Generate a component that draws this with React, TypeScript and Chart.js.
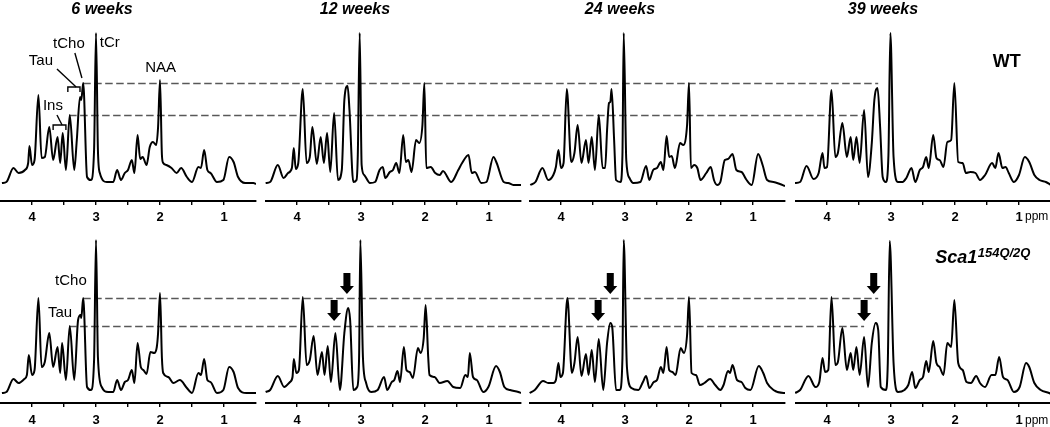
import React, { useEffect, useRef } from 'react';
import { Chart, registerables } from 'chart.js';

Chart.register(...registerables);

const FONT = '"Liberation Sans", Arial, Helvetica, sans-serif';

// ---------- data ----------
const TITLES = ['6 weeks', '12 weeks', '24 weeks', '39 weeks'];
const TICK_VALUES = [4, 3.5, 3, 2.5, 2, 1.5, 1];
const PPM_MIN = 0.5;
const PPM_MAX = 4.5;
const TCHO_PPM = 3.2;
const TAU_PPM = 3.42;

// WT, 6 weeks
const WT6_PPM = [4.47, 4.40, 4.29, 4.21, 4.11, 4.06, 4.04, 4.00, 3.96, 3.90, 3.85, 3.80, 3.73, 3.67, 3.60, 3.56, 3.52, 3.47, 3.41, 3.34, 3.30, 3.25, 3.23, 3.20, 3.14, 3.08, 3.03, 3.00, 2.97, 2.94, 2.83, 2.73, 2.67, 2.61, 2.55, 2.50, 2.44, 2.40, 2.35, 2.31, 2.27, 2.21, 2.16, 2.11, 2.06, 2.03, 2.00, 1.97, 1.95, 1.90, 1.82, 1.74, 1.67, 1.58, 1.50, 1.40, 1.36, 1.31, 1.26, 1.21, 1.11, 1.01, 0.92, 0.85, 0.78, 0.67, 0.54, 0.50];
const WT6_INT = [17, 18, 32, 27, 30, 37, 54, 35, 40, 105, 42, 43, 73, 40, 63, 37, 67, 30, 85, 30, 60, 103, 100, 117, 23, 20, 50, 167, 50, 27, 18, 18, 30, 20, 27, 30, 40, 27, 65, 41, 43, 35, 53, 58, 55, 73, 120, 45, 37, 35, 32, 27, 32, 23, 18, 33, 32, 50, 30, 27, 18, 20, 43, 38, 23, 17, 17, 16];

// WT, 12 weeks
const WT12_PPM = [4.49, 4.42, 4.30, 4.21, 4.14, 4.08, 4.05, 4.02, 3.98, 3.91, 3.85, 3.80, 3.76, 3.69, 3.63, 3.58, 3.53, 3.48, 3.42, 3.36, 3.30, 3.26, 3.21, 3.18, 3.12, 3.07, 3.05, 3.02, 2.99, 2.95, 2.86, 2.78, 2.71, 2.66, 2.62, 2.55, 2.50, 2.45, 2.40, 2.34, 2.30, 2.26, 2.21, 2.14, 2.09, 2.04, 2.01, 1.98, 1.91, 1.84, 1.77, 1.72, 1.59, 1.48, 1.42, 1.32, 1.27, 1.22, 1.12, 1.04, 0.93, 0.88, 0.77, 0.70, 0.62, 0.50];
const WT12_INT = [17, 18, 35, 22, 27, 32, 52, 31, 37, 111, 37, 43, 73, 36, 63, 37, 67, 28, 87, 20, 30, 100, 114, 90, 18, 20, 45, 167, 35, 25, 17, 18, 30, 33, 22, 28, 30, 37, 27, 65, 38, 40, 28, 60, 57, 75, 117, 32, 33, 27, 25, 29, 18, 30, 37, 45, 27, 28, 17, 18, 43, 37, 18, 17, 15, 15];

// WT, 24 weeks
const WT24_PPM = [4.48, 4.40, 4.29, 4.20, 4.12, 4.08, 4.04, 4.00, 3.96, 3.91, 3.84, 3.79, 3.74, 3.68, 3.61, 3.57, 3.52, 3.47, 3.41, 3.35, 3.31, 3.28, 3.25, 3.23, 3.21, 3.17, 3.14, 3.07, 3.04, 3.02, 2.98, 2.93, 2.87, 2.76, 2.67, 2.62, 2.56, 2.50, 2.44, 2.40, 2.35, 2.31, 2.27, 2.22, 2.14, 2.09, 2.03, 2.00, 1.97, 1.92, 1.87, 1.82, 1.73, 1.66, 1.61, 1.56, 1.51, 1.44, 1.39, 1.32, 1.26, 1.18, 1.10, 1.02, 0.92, 0.85, 0.78, 0.68, 0.58, 0.50];
const WT24_INT = [15, 18, 32, 20, 25, 33, 50, 32, 37, 111, 38, 47, 75, 37, 60, 37, 63, 30, 85, 32, 32, 70, 97, 98, 111, 60, 20, 18, 45, 167, 40, 22, 17, 18, 34, 20, 30, 32, 38, 30, 64, 43, 44, 32, 57, 55, 75, 117, 32, 35, 32, 20, 27, 33, 20, 15, 18, 40, 41, 46, 30, 28, 20, 15, 46, 35, 20, 18, 16, 14];

// WT, 39 weeks
const WT39_PPM = [4.50, 4.42, 4.32, 4.21, 4.13, 4.07, 4.04, 4.00, 3.93, 3.87, 3.83, 3.76, 3.69, 3.63, 3.59, 3.54, 3.49, 3.42, 3.36, 3.30, 3.26, 3.21, 3.17, 3.13, 3.08, 3.04, 3.01, 2.96, 2.89, 2.82, 2.76, 2.68, 2.62, 2.55, 2.50, 2.45, 2.41, 2.34, 2.29, 2.24, 2.18, 2.12, 2.06, 2.01, 1.95, 1.88, 1.83, 1.76, 1.68, 1.61, 1.53, 1.42, 1.37, 1.32, 1.26, 1.21, 1.16, 1.08, 1.00, 0.91, 0.84, 0.76, 0.68, 0.58, 0.50];
const WT39_INT = [17, 18, 34, 21, 27, 47, 32, 33, 110, 43, 47, 77, 43, 63, 40, 63, 37, 90, 23, 57, 100, 112, 73, 23, 18, 45, 167, 43, 18, 18, 22, 32, 18, 30, 33, 43, 32, 65, 42, 40, 33, 58, 60, 117, 38, 37, 27, 28, 27, 20, 25, 37, 32, 47, 32, 33, 27, 18, 25, 43, 38, 25, 20, 18, 15];

// Sca1 154Q/2Q, 6 weeks
const SCA6_PPM = [4.47, 4.40, 4.29, 4.21, 4.12, 4.08, 4.05, 4.00, 3.96, 3.90, 3.85, 3.80, 3.73, 3.67, 3.60, 3.56, 3.53, 3.47, 3.41, 3.34, 3.28, 3.24, 3.23, 3.20, 3.14, 3.08, 3.03, 3.00, 2.97, 2.91, 2.81, 2.73, 2.67, 2.61, 2.55, 2.50, 2.44, 2.40, 2.35, 2.30, 2.26, 2.21, 2.15, 2.09, 2.05, 2.03, 2.00, 1.97, 1.95, 1.87, 1.79, 1.69, 1.58, 1.50, 1.40, 1.36, 1.31, 1.26, 1.21, 1.11, 1.01, 0.92, 0.85, 0.78, 0.65, 0.50];
const SCA6_INT = [10, 11, 24, 20, 24, 28, 48, 28, 33, 105, 36, 41, 70, 36, 56, 30, 60, 23, 77, 23, 83, 88, 85, 105, 16, 13, 43, 163, 46, 16, 11, 11, 23, 13, 21, 23, 33, 20, 60, 36, 33, 29, 51, 50, 56, 70, 110, 45, 30, 26, 20, 23, 15, 10, 30, 28, 44, 23, 21, 10, 13, 36, 31, 15, 10, 10];

// Sca1 154Q/2Q, 12 weeks
const SCA12_PPM = [4.49, 4.42, 4.30, 4.20, 4.11, 4.07, 4.05, 4.01, 3.97, 3.91, 3.85, 3.80, 3.74, 3.68, 3.61, 3.57, 3.52, 3.47, 3.40, 3.33, 3.26, 3.20, 3.17, 3.12, 3.06, 3.03, 3.01, 2.97, 2.92, 2.84, 2.74, 2.64, 2.59, 2.52, 2.48, 2.43, 2.39, 2.33, 2.29, 2.24, 2.19, 2.11, 2.07, 2.02, 1.99, 1.95, 1.93, 1.85, 1.77, 1.65, 1.56, 1.45, 1.37, 1.33, 1.30, 1.25, 1.19, 1.09, 1.01, 0.89, 0.83, 0.76, 0.67, 0.54, 0.50];
const SCA12_INT = [11, 13, 27, 16, 21, 26, 44, 30, 33, 106, 38, 43, 67, 28, 51, 28, 57, 21, 70, 13, 70, 95, 83, 13, 16, 45, 163, 46, 20, 11, 13, 26, 13, 21, 23, 32, 21, 56, 33, 31, 25, 55, 50, 65, 98, 46, 28, 26, 20, 22, 16, 15, 28, 26, 50, 26, 23, 11, 16, 37, 31, 16, 13, 11, 10];

// Sca1 154Q/2Q, 24 weeks
const SCA24_PPM = [4.49, 4.41, 4.28, 4.20, 4.12, 4.08, 4.04, 4.01, 3.97, 3.90, 3.83, 3.79, 3.74, 3.68, 3.61, 3.57, 3.52, 3.47, 3.41, 3.34, 3.28, 3.23, 3.20, 3.14, 3.08, 3.04, 3.02, 2.97, 2.90, 2.79, 2.72, 2.67, 2.62, 2.55, 2.50, 2.44, 2.40, 2.35, 2.31, 2.26, 2.21, 2.13, 2.08, 2.03, 2.00, 1.96, 1.89, 1.83, 1.76, 1.67, 1.59, 1.51, 1.46, 1.39, 1.36, 1.32, 1.25, 1.18, 1.12, 1.04, 0.91, 0.84, 0.78, 0.68, 0.52, 0.50];
const SCA24_INT = [10, 13, 22, 20, 20, 23, 40, 26, 30, 105, 30, 40, 66, 27, 49, 28, 53, 21, 64, 13, 60, 80, 76, 13, 13, 45, 163, 36, 15, 13, 21, 27, 15, 21, 23, 36, 30, 56, 33, 31, 28, 55, 50, 68, 106, 30, 28, 18, 20, 24, 18, 13, 18, 32, 30, 38, 23, 21, 15, 13, 37, 30, 20, 13, 10, 10];

// Sca1 154Q/2Q, 39 weeks
const SCA39_PPM = [4.50, 4.42, 4.29, 4.18, 4.12, 4.07, 4.03, 3.98, 3.93, 3.87, 3.83, 3.76, 3.69, 3.63, 3.59, 3.54, 3.49, 3.42, 3.36, 3.30, 3.24, 3.20, 3.16, 3.08, 3.05, 3.02, 2.96, 2.89, 2.79, 2.73, 2.67, 2.62, 2.55, 2.50, 2.45, 2.41, 2.34, 2.29, 2.24, 2.18, 2.12, 2.06, 2.01, 1.95, 1.88, 1.82, 1.75, 1.67, 1.61, 1.53, 1.43, 1.37, 1.31, 1.25, 1.18, 1.08, 0.99, 0.89, 0.84, 0.76, 0.66, 0.53, 0.50];
const SCA39_INT = [10, 13, 27, 16, 21, 45, 31, 33, 106, 38, 41, 75, 33, 50, 33, 56, 28, 66, 16, 60, 80, 73, 16, 13, 40, 162, 40, 11, 13, 18, 31, 15, 23, 26, 42, 31, 62, 40, 36, 28, 60, 56, 103, 40, 33, 21, 20, 27, 20, 16, 28, 28, 46, 26, 23, 11, 16, 40, 36, 20, 13, 10, 9];

const SPECTRA = [
  [
    { ppm: WT6_PPM, val: WT6_INT },
    { ppm: WT12_PPM, val: WT12_INT },
    { ppm: WT24_PPM, val: WT24_INT },
    { ppm: WT39_PPM, val: WT39_INT },
  ],
  [
    { ppm: SCA6_PPM, val: SCA6_INT },
    { ppm: SCA12_PPM, val: SCA12_INT },
    { ppm: SCA24_PPM, val: SCA24_INT },
    { ppm: SCA39_PPM, val: SCA39_INT },
  ],
];

// ---------- layout ----------
const PANEL_LEFTS = [0, 265, 529, 795];
const PLOT_W = 256;
const CANVAS_W = [265, 264, 266, 256];
const ROWS = [
  { top: 0, height: 227, padTop: 20, axisH: 26, labelPad: 4.5, yMin: -1, yMax: 180 },
  { top: 227, height: 200, padTop: 0, axisH: 24, labelPad: 6, yMin: 0, yMax: 176 },
];
const TICK_FONT_SIZE = 13;
const TICK_LEN = 4;
const TITLE_X = [102, 90, 91, 88];

const WT_LABELS = [
  { text: 'tCr', ppm: 2.94, v: 153 },
  { text: 'tCho', ppm: 3.67, v: 152 },
  { text: 'Tau', ppm: 4.05, v: 135 },
  { text: 'NAA', ppm: 2.23, v: 128 },
  { text: 'Ins', ppm: 3.83, v: 90 },
];
const WT_LEADERS = [
  [[3.33, 147], [3.22, 122]],
  [[3.61, 131], [3.31, 113]],
  [[3.44, 108], [3.44, 113], [3.25, 113], [3.25, 108]],
  [[3.61, 85], [3.53, 75]],
  [[3.67, 70], [3.67, 75], [3.47, 75], [3.47, 70]],
];
const SCA_LABELS = [
  { text: 'tCho', ppm: 3.64, v: 118 },
  { text: 'Tau', ppm: 3.75, v: 86 },
];
const ARROW_UPPER_PPM = [0, 3.22, 3.23, 3.27];
const ARROW_LOWER_PPM = [0, 3.42, 3.42, 3.42];

function peakIn(s: { ppm: number[]; val: number[] }, lo: number, hi: number) {
  let m = -Infinity;
  s.ppm.forEach((p, i) => {
    if (p >= lo && p <= hi && s.val[i] > m) m = s.val[i];
  });
  return m;
}

function drawArrow(ctx: CanvasRenderingContext2D, x: number, tipY: number) {
  const shaftW = 7, headW = 14, headH = 8, total = 21;
  ctx.beginPath();
  ctx.moveTo(x - shaftW / 2, tipY - total);
  ctx.lineTo(x + shaftW / 2, tipY - total);
  ctx.lineTo(x + shaftW / 2, tipY - headH);
  ctx.lineTo(x + headW / 2, tipY - headH);
  ctx.lineTo(x, tipY);
  ctx.lineTo(x - headW / 2, tipY - headH);
  ctx.lineTo(x - shaftW / 2, tipY - headH);
  ctx.closePath();
  ctx.fill();
}

function makeOverlay(row: number, col: number, refs: { tcho: number; tau: number }, canvasW: number) {
  return {
    id: 'overlay' + row + col,
    beforeDatasetsDraw(chart: any) {
      const ctx: CanvasRenderingContext2D = chart.ctx;
      const xs = chart.scales.x;
      const ys = chart.scales.y;
      const left = PANEL_LEFTS[col];
      ctx.save();
      ctx.strokeStyle = '#585858';
      ctx.lineWidth = 1.3;
      ctx.setLineDash([7.5, 3.5]);
      const lines: [number, number][] = [[TCHO_PPM, refs.tcho], [TAU_PPM, refs.tau]];
      for (const [ppm, val] of lines) {
        const x0 = PANEL_LEFTS[0] + xs.getPixelForValue(ppm);
        const x1 = PANEL_LEFTS[3] + xs.getPixelForValue(ppm);
        const s = Math.max(0, x0 - left);
        const e = Math.min(canvasW, x1 - left);
        if (e <= s) continue;
        const y = Math.round(ys.getPixelForValue(val)) + 0.5;
        ctx.lineDashOffset = left + s - x0;
        ctx.beginPath();
        ctx.moveTo(s, y);
        ctx.lineTo(e, y);
        ctx.stroke();
      }
      ctx.restore();
    },
    afterDatasetsDraw(chart: any) {
      const ctx: CanvasRenderingContext2D = chart.ctx;
      const xs = chart.scales.x;
      const ys = chart.scales.y;
      const area = chart.chartArea;
      const X = (p: number) => xs.getPixelForValue(p);
      const Y = (v: number) => ys.getPixelForValue(v);
      ctx.save();
      ctx.fillStyle = '#000';
      ctx.strokeStyle = '#000';
      ctx.textBaseline = 'alphabetic';
      ctx.textAlign = 'left';
      if (row === 0) {
        ctx.font = `italic bold 16px ${FONT}`;
        ctx.textAlign = 'center';
        ctx.fillText(TITLES[col], area.left + TITLE_X[col], 13.5);
        ctx.textAlign = 'left';
      }
      if (col === 0) {
        const labels = row === 0 ? WT_LABELS : SCA_LABELS;
        ctx.font = `15px ${FONT}`;
        labels.forEach((l) => ctx.fillText(l.text, X(l.ppm), Y(l.v)));
        if (row === 0) {
          ctx.lineWidth = 1.4;
          WT_LEADERS.forEach((pts) => {
            ctx.beginPath();
            pts.forEach(([p, v], i) => (i === 0 ? ctx.moveTo(X(p), Y(v)) : ctx.lineTo(X(p), Y(v))));
            ctx.stroke();
          });
        }
      }
      if (row === 1 && col > 0) {
        drawArrow(ctx, X(ARROW_UPPER_PPM[col]), Y(refs.tcho) - 4);
        drawArrow(ctx, X(ARROW_LOWER_PPM[col]), Y(refs.tau) - 5);
      }
      if (col === 3) {
        if (row === 0) {
          ctx.font = `bold 18px ${FONT}`;
          ctx.fillText('WT', X(1.41), Y(133));
        } else {
          ctx.font = `italic bold 18px ${FONT}`;
          const x = X(2.31);
          const y = Y(140);
          ctx.fillText('Sca1', x, y);
          const w = ctx.measureText('Sca1').width;
          ctx.font = `italic bold 13px ${FONT}`;
          ctx.fillText('154Q/2Q', x + w + 0.5, y - 6.5);
        }
        const g = ROWS[row];
        ctx.font = `12px ${FONT}`;
        ctx.textBaseline = 'alphabetic';
        ctx.fillText('ppm', X(1) + 6, area.bottom + TICK_LEN + g.labelPad + 6 + 4.5);
      }
      ctx.restore();
    },
  };
}

function Panel({ row, col }: { row: number; col: number }) {
  const ref = useRef<HTMLCanvasElement>(null);
  const g = ROWS[row];
  const w = CANVAS_W[col];
  useEffect(() => {
    const canvas = ref.current;
    if (!canvas) return;
    const s = SPECTRA[row][col];
    const r0 = SPECTRA[row][0];
    const refs = { tcho: peakIn(r0, 3.15, 3.25), tau: peakIn(r0, 3.37, 3.47) };
    const chart = new Chart(canvas, {
      type: 'line',
      data: {
        datasets: [
          {
            data: s.ppm.map((p, i) => ({ x: p, y: s.val[i] })),
            borderColor: '#000',
            borderWidth: 2,
            pointRadius: 0,
            fill: false,
            cubicInterpolationMode: 'monotone',
          },
        ],
      },
      options: {
        animation: false,
        responsive: false,
        devicePixelRatio: 1,
        events: [],
        layout: { padding: { left: 0, right: w - PLOT_W, top: g.padTop, bottom: 0 } },
        plugins: { legend: { display: false }, tooltip: { enabled: false }, title: { display: false } },
        scales: {
          x: {
            type: 'linear',
            reverse: true,
            min: PPM_MIN,
            max: PPM_MAX,
            afterBuildTicks: (sc: any) => {
              sc.ticks = TICK_VALUES.map((v) => ({ value: v }));
            },
            afterFit: (sc: any) => {
              sc.height = g.axisH;
            },
            grid: { display: true, drawOnChartArea: false, drawTicks: true, tickLength: TICK_LEN, color: '#000', lineWidth: 1.4 },
            border: { display: true, color: '#000', width: 2 },
            ticks: {
              autoSkip: false,
              maxRotation: 0,
              padding: g.labelPad,
              color: '#000',
              font: { family: FONT, size: TICK_FONT_SIZE, weight: 'bold' },
              callback: (v: any) => (Number.isInteger(v) ? String(v) : ''),
            },
          },
          y: { display: false, min: g.yMin, max: g.yMax },
        },
      },
      plugins: [makeOverlay(row, col, refs, w) as any],
    } as any);
    return () => chart.destroy();
  }, [row, col]);
  return (
    <canvas
      ref={ref}
      width={w}
      height={g.height}
      style={{ position: 'absolute', left: PANEL_LEFTS[col], top: g.top, width: w, height: g.height, display: 'block' }}
    />
  );
}

export default function App() {
  return (
    <div style={{ position: 'fixed', left: 0, top: 0, width: 1050, height: 427, overflow: 'hidden', background: '#fff' }}>
      {[0, 1].map((r) => [0, 1, 2, 3].map((c) => <Panel key={`${r}-${c}`} row={r} col={c} />))}
    </div>
  );
}
